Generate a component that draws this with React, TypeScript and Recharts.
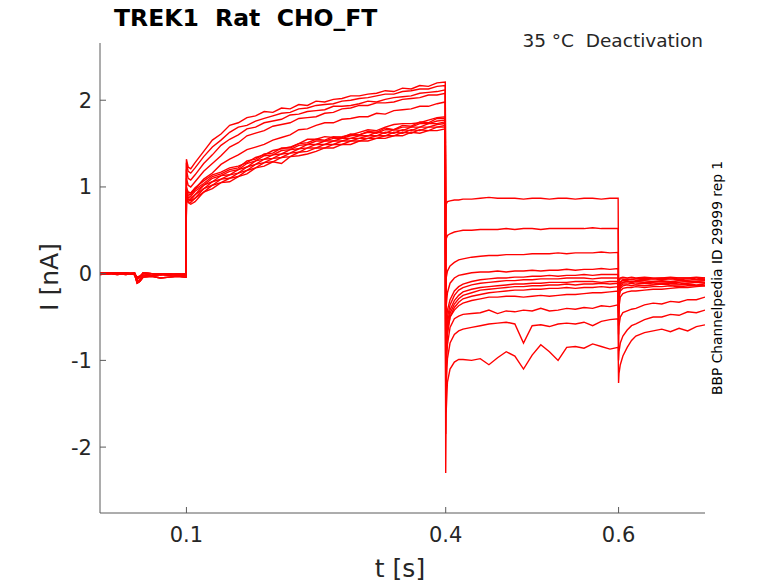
import { LineChart, Line, XAxis, YAxis } from "recharts"

// sampling times for each protocol phase (s)
const T_HOLD = [0, 0.01, 0.02, 0.03, 0.04, 0.043, 0.046, 0.05, 0.06, 0.07, 0.08, 0.09, 0.0995]
const T_STEP = [0.1, 0.102, 0.105, 0.11, 0.12, 0.13, 0.14, 0.15, 0.16, 0.17, 0.18, 0.19, 0.2, 0.21, 0.22, 0.23, 0.24, 0.25, 0.26, 0.27, 0.28, 0.29, 0.3, 0.31, 0.32, 0.33, 0.34, 0.35, 0.36, 0.37, 0.38, 0.39, 0.3995]
const T_TAIL = [0.4, 0.4005, 0.402, 0.405, 0.41, 0.415, 0.42, 0.43, 0.44, 0.45, 0.46, 0.47, 0.48, 0.49, 0.5, 0.51, 0.52, 0.53, 0.54, 0.55, 0.56, 0.57, 0.58, 0.59, 0.5995]
const T_END = [0.6, 0.6005, 0.602, 0.605, 0.61, 0.615, 0.62, 0.63, 0.64, 0.65, 0.66, 0.67, 0.68, 0.69, 0.7]

// holding current (nA), a few baseline variants shared by the sweeps
const HOLD = [
  [0.01, 0.0, 0.01, 0.0, 0.0, -0.06, -0.04, 0.01, 0.0, -0.01, 0.0, -0.02, 0.0],
  [0.0, 0.01, 0.0, -0.01, 0.01, -0.09, -0.07, -0.02, -0.03, -0.01, -0.02, -0.01, -0.02],
  [-0.01, 0.0, -0.01, 0.0, -0.01, -0.11, -0.09, -0.04, -0.03, -0.05, -0.04, -0.03, -0.04],
  [0.0, 0.0, 0.01, 0.01, 0.0, -0.04, -0.03, 0.0, -0.02, 0.0, -0.01, 0.0, -0.01],
]

// activating step, one row per sweep
const STEP = [
  [1.32, 1.23, 1.21, 1.28, 1.41, 1.54, 1.61, 1.71, 1.74, 1.8, 1.82, 1.87, 1.86, 1.91, 1.9, 1.95, 1.94, 1.99, 1.98, 2.01, 2.02, 2.05, 2.05, 2.07, 2.08, 2.11, 2.1, 2.14, 2.13, 2.17, 2.16, 2.2, 2.21],
  [1.28, 1.18, 1.16, 1.22, 1.35, 1.46, 1.54, 1.63, 1.69, 1.71, 1.76, 1.79, 1.82, 1.85, 1.86, 1.9, 1.91, 1.94, 1.95, 1.96, 1.99, 2.0, 2.02, 2.03, 2.05, 2.07, 2.07, 2.1, 2.11, 2.13, 2.13, 2.16, 2.17],
  [1.2, 1.1, 1.08, 1.14, 1.27, 1.37, 1.48, 1.55, 1.6, 1.67, 1.69, 1.74, 1.76, 1.78, 1.83, 1.84, 1.87, 1.88, 1.89, 1.93, 1.93, 1.94, 1.96, 1.99, 1.98, 2.01, 2.03, 2.04, 2.05, 2.08, 2.09, 2.1, 2.12],
  [1.1, 1.02, 1.0, 1.06, 1.18, 1.27, 1.36, 1.46, 1.51, 1.59, 1.62, 1.65, 1.7, 1.72, 1.74, 1.79, 1.8, 1.81, 1.85, 1.86, 1.9, 1.91, 1.94, 1.94, 1.97, 1.97, 1.98, 2.01, 2.02, 2.03, 2.06, 2.06, 2.08],
  [1.0, 0.94, 0.93, 0.98, 1.09, 1.16, 1.26, 1.32, 1.37, 1.43, 1.46, 1.49, 1.54, 1.57, 1.6, 1.66, 1.67, 1.71, 1.74, 1.74, 1.78, 1.79, 1.81, 1.81, 1.85, 1.84, 1.88, 1.89, 1.9, 1.93, 1.93, 1.96, 1.98],
  [0.96, 0.94, 0.93, 0.99, 1.07, 1.14, 1.17, 1.22, 1.24, 1.28, 1.34, 1.37, 1.42, 1.44, 1.46, 1.5, 1.55, 1.55, 1.58, 1.57, 1.58, 1.6, 1.63, 1.66, 1.65, 1.69, 1.72, 1.73, 1.73, 1.74, 1.77, 1.8, 1.81],
  [0.95, 0.92, 0.91, 0.97, 1.04, 1.12, 1.15, 1.2, 1.22, 1.3, 1.32, 1.38, 1.39, 1.45, 1.45, 1.5, 1.51, 1.55, 1.54, 1.58, 1.57, 1.61, 1.6, 1.64, 1.63, 1.68, 1.66, 1.71, 1.7, 1.75, 1.74, 1.79, 1.79],
  [0.94, 0.9, 0.89, 0.95, 1.02, 1.1, 1.13, 1.18, 1.2, 1.27, 1.3, 1.36, 1.37, 1.42, 1.43, 1.48, 1.49, 1.53, 1.53, 1.56, 1.56, 1.59, 1.6, 1.63, 1.62, 1.66, 1.66, 1.69, 1.69, 1.73, 1.73, 1.76, 1.77],
  [0.93, 0.88, 0.87, 0.91, 1.02, 1.06, 1.13, 1.14, 1.2, 1.23, 1.3, 1.32, 1.37, 1.38, 1.43, 1.44, 1.49, 1.49, 1.53, 1.53, 1.56, 1.56, 1.59, 1.59, 1.63, 1.62, 1.66, 1.65, 1.69, 1.69, 1.73, 1.73, 1.75],
  [0.92, 0.86, 0.85, 0.91, 0.98, 1.06, 1.09, 1.14, 1.16, 1.23, 1.26, 1.32, 1.33, 1.38, 1.39, 1.44, 1.45, 1.49, 1.49, 1.53, 1.53, 1.56, 1.56, 1.59, 1.59, 1.63, 1.62, 1.66, 1.65, 1.69, 1.69, 1.72, 1.73],
  [0.91, 0.85, 0.84, 0.87, 0.98, 1.02, 1.09, 1.1, 1.16, 1.19, 1.26, 1.28, 1.33, 1.34, 1.39, 1.4, 1.45, 1.45, 1.49, 1.49, 1.53, 1.53, 1.56, 1.56, 1.59, 1.59, 1.63, 1.62, 1.66, 1.65, 1.69, 1.69, 1.71],
  [0.9, 0.83, 0.82, 0.87, 0.94, 1.02, 1.05, 1.1, 1.12, 1.19, 1.22, 1.28, 1.29, 1.34, 1.35, 1.4, 1.41, 1.45, 1.45, 1.49, 1.49, 1.53, 1.53, 1.56, 1.56, 1.59, 1.59, 1.63, 1.62, 1.66, 1.65, 1.69, 1.69],
  [0.89, 0.82, 0.8, 0.83, 0.94, 0.98, 1.05, 1.06, 1.12, 1.15, 1.22, 1.24, 1.29, 1.27, 1.35, 1.36, 1.38, 1.41, 1.45, 1.45, 1.49, 1.49, 1.53, 1.53, 1.56, 1.56, 1.59, 1.59, 1.63, 1.62, 1.65, 1.65, 1.67],
]

// deactivating tail, one row per sweep
const TAIL = [
  [0.62, 0.8, 0.83, 0.84, 0.85, 0.85, 0.86, 0.86, 0.87, 0.88, 0.87, 0.87, 0.87, 0.86, 0.87, 0.87, 0.86, 0.87, 0.87, 0.86, 0.87, 0.87, 0.86, 0.87, 0.87],
  [0.15, 0.4, 0.44, 0.46, 0.48, 0.49, 0.5, 0.5, 0.51, 0.51, 0.51, 0.52, 0.51, 0.52, 0.52, 0.51, 0.52, 0.52, 0.52, 0.52, 0.52, 0.53, 0.52, 0.52, 0.52],
  [-0.35, -0.05, 0.03, 0.09, 0.13, 0.16, 0.17, 0.19, 0.2, 0.21, 0.21, 0.22, 0.22, 0.22, 0.23, 0.23, 0.23, 0.24, 0.23, 0.24, 0.24, 0.24, 0.25, 0.24, 0.245],
  [-0.75, -0.38, -0.22, -0.11, -0.05, -0.02, -0.01, 0.01, 0.02, 0.02, 0.03, 0.02, 0.03, 0.03, 0.04, 0.03, 0.04, 0.04, 0.05, 0.04, 0.05, 0.05, 0.06, 0.05, 0.06],
  [-0.95, -0.6, -0.42, -0.3, -0.2, -0.15, -0.12, -0.09, -0.07, -0.06, -0.05, -0.05, -0.04, -0.04, -0.03, -0.03, -0.02, -0.03, -0.02, -0.02, -0.01, -0.02, -0.01, -0.01, -0.01],
  [-1.05, -0.7, -0.5, -0.36, -0.25, -0.19, -0.16, -0.13, -0.11, -0.1, -0.09, -0.08, -0.08, -0.07, -0.07, -0.06, -0.06, -0.06, -0.05, -0.05, -0.05, -0.06, -0.05, -0.05, -0.05],
  [-1.15, -0.78, -0.56, -0.42, -0.31, -0.25, -0.21, -0.18, -0.16, -0.15, -0.14, -0.13, -0.12, -0.12, -0.11, -0.11, -0.1, -0.1, -0.1, -0.09, -0.09, -0.09, -0.1, -0.09, -0.09],
  [-1.22, -0.85, -0.62, -0.46, -0.35, -0.29, -0.25, -0.22, -0.19, -0.18, -0.17, -0.16, -0.15, -0.15, -0.14, -0.14, -0.13, -0.13, -0.12, -0.13, -0.12, -0.12, -0.11, -0.12, -0.11],
  [-1.3, -0.9, -0.66, -0.5, -0.39, -0.33, -0.29, -0.26, -0.24, -0.22, -0.21, -0.2, -0.19, -0.19, -0.18, -0.18, -0.17, -0.17, -0.16, -0.17, -0.16, -0.16, -0.15, -0.16, -0.15],
  [-1.45, -0.95, -0.7, -0.5, -0.42, -0.37, -0.34, -0.31, -0.29, -0.27, -0.27, -0.26, -0.26, -0.27, -0.26, -0.25, -0.26, -0.25, -0.24, -0.24, -0.23, -0.22, -0.22, -0.21, -0.2],
  [-1.6, -1.1, -0.82, -0.62, -0.52, -0.49, -0.47, -0.46, -0.45, -0.42, -0.46, -0.43, -0.44, -0.42, -0.43, -0.4, -0.43, -0.42, -0.4, -0.41, -0.39, -0.4, -0.37, -0.38, -0.36],
  [-1.85, -1.3, -0.98, -0.8, -0.7, -0.66, -0.64, -0.62, -0.6, -0.58, -0.57, -0.56, -0.58, -0.8, -0.6, -0.59, -0.61, -0.58, -0.57, -0.58, -0.56, -0.6, -0.55, -0.53, -0.52],
  [-2.3, -1.6, -1.25, -1.1, -1.02, -0.99, -0.99, -1.0, -0.98, -1.05, -0.97, -0.9, -0.95, -1.1, -0.94, -0.82, -0.9, -1.0, -0.85, -0.84, -0.86, -0.81, -0.84, -0.87, -0.85],
]

// return to holding potential, one row per sweep
const END = [
  [-0.15, -0.06, -0.05, -0.04, -0.05, -0.04, -0.05, -0.04, -0.05, -0.05, -0.04, -0.05, -0.05, -0.06, -0.05],
  [-0.2, -0.08, -0.06, -0.06, -0.07, -0.06, -0.06, -0.07, -0.06, -0.07, -0.06, -0.07, -0.06, -0.07, -0.07],
  [-0.3, -0.12, -0.09, -0.08, -0.08, -0.09, -0.08, -0.08, -0.09, -0.08, -0.09, -0.08, -0.08, -0.09, -0.08],
  [-0.4, -0.16, -0.11, -0.1, -0.09, -0.1, -0.09, -0.1, -0.1, -0.09, -0.1, -0.1, -0.09, -0.1, -0.1],
  [-0.4, -0.18, -0.1, -0.07, -0.06, -0.07, -0.06, -0.05, -0.06, -0.05, -0.06, -0.05, -0.05, -0.04, -0.05],
  [-0.45, -0.2, -0.13, -0.1, -0.09, -0.1, -0.09, -0.1, -0.09, -0.09, -0.1, -0.08, -0.09, -0.09, -0.08],
  [-0.5, -0.22, -0.15, -0.12, -0.12, -0.11, -0.12, -0.11, -0.12, -0.11, -0.11, -0.12, -0.11, -0.1, -0.11],
  [-0.55, -0.25, -0.17, -0.14, -0.13, -0.14, -0.13, -0.14, -0.13, -0.12, -0.13, -0.13, -0.12, -0.13, -0.12],
  [-0.6, -0.28, -0.2, -0.17, -0.16, -0.16, -0.15, -0.16, -0.15, -0.15, -0.14, -0.15, -0.14, -0.14, -0.14],
  [-0.7, -0.38, -0.27, -0.23, -0.21, -0.2, -0.2, -0.19, -0.18, -0.18, -0.17, -0.16, -0.16, -0.15, -0.14],
  [-0.85, -0.6, -0.5, -0.45, -0.43, -0.41, -0.4, -0.36, -0.34, -0.35, -0.32, -0.33, -0.3, -0.3, -0.27],
  [-1.0, -0.9, -0.8, -0.72, -0.65, -0.6, -0.58, -0.53, -0.5, -0.5, -0.47, -0.48, -0.44, -0.45, -0.42],
  [-1.26, -1.15, -1.05, -0.95, -0.85, -0.77, -0.72, -0.68, -0.66, -0.64, -0.67, -0.63, -0.66, -0.61, -0.59],
]

const X_TICKS = [0.1, 0.4, 0.6]
const Y_TICKS = [-2, -1, 0, 1, 2]

const W = 778
const H = 583
const PLOT_LEFT = 100
const PLOT_BOTTOM = 513
const AXIS = "#5a5a5a"
const TEXT = "#262626"
const FONT = "DejaVu Sans, sans-serif"
const TRACE = "#ff0000"

const TIMES = [...T_HOLD, ...T_STEP, ...T_TAIL, ...T_END]
const SWEEPS = STEP.map((_, i) => [...HOLD[i % HOLD.length], ...STEP[i], ...TAIL[i], ...END[i]])
const rows = TIMES.map((t, k) => {
  const row: Record<string, number> = { t }
  SWEEPS.forEach((s, i) => { row[`s${i}`] = s[k] })
  return row
})

function XTick({ x, payload }: { x?: number; payload?: { value: number } }) {
  return (
    <g>
      <line x1={x} x2={x} y1={PLOT_BOTTOM} y2={PLOT_BOTTOM - 6} stroke={AXIS} />
      <text x={x} y={542} textAnchor="middle" fontSize={21} fill={TEXT} fontFamily={FONT}>{payload?.value}</text>
    </g>
  )
}

function YTick({ y, payload }: { y?: number; payload?: { value: number } }) {
  return (
    <g>
      <line x1={PLOT_LEFT} x2={PLOT_LEFT + 6} y1={y} y2={y} stroke={AXIS} />
      <text x={92} y={(y || 0) + 7.5} textAnchor="end" fontSize={21} fill={TEXT} fontFamily={FONT}>{payload?.value}</text>
    </g>
  )
}

export default function App() {
  return (
    <div style={{ position: "absolute", left: 0, top: 0, width: W, height: H, background: "#fff" }}>
      <LineChart width={W} height={H} data={rows} margin={{ top: 43, right: 73, bottom: 40, left: 40 }}>
        <XAxis type="number" dataKey="t" domain={[0, 0.7]} ticks={X_TICKS} allowDataOverflow
          axisLine={{ stroke: AXIS }} tickLine={false} tick={<XTick />} height={30} />
        <YAxis type="number" domain={[-2.76, 2.66]} ticks={Y_TICKS} allowDataOverflow
          axisLine={{ stroke: AXIS }} tickLine={false} tick={<YTick />} width={60} />
        {SWEEPS.map((_, i) => (
          <Line key={i} type="linear" dataKey={`s${i}`} stroke={TRACE} strokeWidth={1.4}
            dot={false} activeDot={false} isAnimationActive={false} />
        ))}
      </LineChart>
      <svg width={W} height={H} style={{ position: "absolute", left: 0, top: 0, pointerEvents: "none" }}>
        <text x={114} y={26} fontSize={23.5} fontWeight="bold" fill="#000" fontFamily={FONT} style={{ whiteSpace: "pre" }}>
          {"TREK1  Rat  CHO_FT"}
        </text>
        <text x={703} y={47} textAnchor="end" fontSize={18.5} fill={TEXT} fontFamily={FONT} style={{ whiteSpace: "pre" }}>
          {"35 °C  Deactivation"}
        </text>
        <text x={400} y={577} textAnchor="middle" fontSize={25} fill={TEXT} fontFamily={FONT}>t [s]</text>
        <text transform="translate(58,277) rotate(-90)" textAnchor="middle" fontSize={25} fill={TEXT} fontFamily={FONT}>I [nA]</text>
        <text transform="translate(722,395) rotate(-90)" fontSize={13.8} fill="#000" fontFamily={FONT}>
          BBP Channelpedia ID 29999 rep 1
        </text>
      </svg>
    </div>
  )
}
